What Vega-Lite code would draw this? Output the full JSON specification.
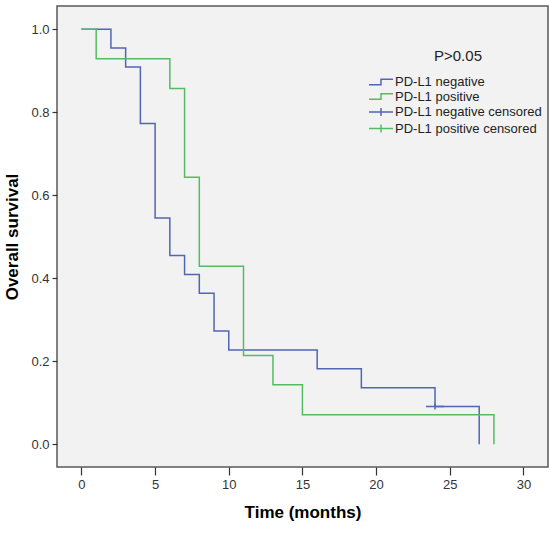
{
  "$schema": "https://vega.github.io/schema/vega-lite/v6.json",
  "autosize": {"type": "none"},
  "padding": {"left": 57, "top": 6, "right": 2, "bottom": 70},
  "width": 491,
  "height": 461,
  "background": "white",
  "config": {
    "view": {"fill": "#f2f2f2", "stroke": "#5a5a5a", "strokeWidth": 1.5},
    "font": "Liberation Sans"
  },
  "datasets": {
    "curves": [
      {"group": "PD-L1 negative", "time": 0, "surv": 1.0},
      {"group": "PD-L1 negative", "time": 2, "surv": 0.955},
      {"group": "PD-L1 negative", "time": 3, "surv": 0.909},
      {"group": "PD-L1 negative", "time": 4, "surv": 0.773},
      {"group": "PD-L1 negative", "time": 5, "surv": 0.545},
      {"group": "PD-L1 negative", "time": 6, "surv": 0.455},
      {"group": "PD-L1 negative", "time": 7, "surv": 0.409},
      {"group": "PD-L1 negative", "time": 8, "surv": 0.364},
      {"group": "PD-L1 negative", "time": 9, "surv": 0.273},
      {"group": "PD-L1 negative", "time": 10, "surv": 0.227},
      {"group": "PD-L1 negative", "time": 16, "surv": 0.182},
      {"group": "PD-L1 negative", "time": 19, "surv": 0.136},
      {"group": "PD-L1 negative", "time": 24, "surv": 0.091},
      {"group": "PD-L1 negative", "time": 27, "surv": 0.0},
      {"group": "PD-L1 positive", "time": 0, "surv": 1.0},
      {"group": "PD-L1 positive", "time": 1, "surv": 0.929},
      {"group": "PD-L1 positive", "time": 6, "surv": 0.857},
      {"group": "PD-L1 positive", "time": 7, "surv": 0.643},
      {"group": "PD-L1 positive", "time": 8, "surv": 0.429},
      {"group": "PD-L1 positive", "time": 11, "surv": 0.214},
      {"group": "PD-L1 positive", "time": 13, "surv": 0.143},
      {"group": "PD-L1 positive", "time": 15, "surv": 0.071},
      {"group": "PD-L1 positive", "time": 28, "surv": 0.0}
    ],
    "censored": [
      {"group": "PD-L1 negative censored", "time": 24, "surv": 0.091}
    ]
  },
  "layer": [
    {
      "data": {"name": "curves"},
      "mark": {"type": "line", "interpolate": "step-after", "strokeWidth": 1.5},
      "encoding": {
        "x": {
          "field": "time", "type": "quantitative",
          "scale": {"domain": [-1.66, 31.67], "nice": false, "zero": false},
          "axis": {
            "title": "Time (months)",
            "values": [0, 5, 10, 15, 20, 25, 30],
            "domain": false, "grid": false,
            "tickColor": "#333333", "tickSize": 8, "tickWidth": 1.2,
            "labelColor": "#333333", "labelFontSize": 13, "labelPadding": 3,
            "labelFont": "Liberation Sans",
            "titleFont": "Liberation Sans", "titleFontSize": 17, "titleFontWeight": "bold",
            "titleColor": "#000000", "titleX": 245.5, "titleY": 45,
            "titleBaseline": "middle", "titleAlign": "center"
          }
        },
        "y": {
          "field": "surv", "type": "quantitative",
          "scale": {"domain": [-0.055, 1.056], "nice": false, "zero": false},
          "axis": {
            "title": "Overall survival",
            "values": [0, 0.2, 0.4, 0.6, 0.8, 1.0],
            "format": ".1f",
            "domain": false, "grid": false,
            "tickColor": "#333333", "tickSize": 5, "tickWidth": 1.2,
            "labelColor": "#333333", "labelFontSize": 13, "labelPadding": 3,
            "labelFont": "Liberation Sans",
            "titleFont": "Liberation Sans", "titleFontSize": 17, "titleFontWeight": "bold",
            "titleColor": "#000000", "titleX": -45, "titleY": 230.5, "titleAngle": -90,
            "titleBaseline": "middle", "titleAlign": "center"
          }
        },
        "stroke": {
          "field": "group", "type": "nominal",
          "scale": {
            "domain": ["PD-L1 negative", "PD-L1 positive"],
            "range": ["#5166b3", "#55bb62"]
          },
          "legend": null
        }
      }
    },
    {
      "data": {"name": "censored"},
      "mark": {"type": "point", "filled": false, "opacity": 1, "strokeWidth": 1.5, "size": 81},
      "encoding": {
        "x": {"field": "time", "type": "quantitative"},
        "y": {"field": "surv", "type": "quantitative"},
        "color": {
          "field": "group", "type": "nominal",
          "scale": {
            "domain": ["PD-L1 negative", "PD-L1 positive", "PD-L1 negative censored", "PD-L1 positive censored"],
            "range": ["#5166b3", "#55bb62", "#5166b3", "#55bb62"]
          },
          "legend": {
            "title": "P>0.05",
            "orient": "none", "legendX": 317, "legendY": 43,
            "padding": 0,
            "titleFont": "Liberation Sans", "titleFontSize": 15, "titleFontWeight": "normal",
            "titleColor": "#222222", "titleAnchor": "middle", "titleAlign": "center", "titlePadding": 11,
            "labelFont": "Liberation Sans", "labelFontSize": 13, "labelColor": "#222222",
            "labelOffset": 7, "rowPadding": 0.5,
            "symbolSize": 144, "symbolStrokeWidth": 1.5, "symbolOpacity": 1,
            "symbolFillColor": "transparent"
          }
        },
        "shape": {
          "field": "group", "type": "nominal",
          "scale": {
            "domain": ["PD-L1 negative", "PD-L1 positive", "PD-L1 negative censored", "PD-L1 positive censored"],
            "range": ["M-2,0.47H0V-0.47H2", "M-2,0.47H0V-0.47H2", "M-2,0H2M0,-0.67V0.67", "M-2,0H2M0,-0.67V0.67"]
          },
          "legend": {
            "title": "P>0.05",
            "orient": "none", "legendX": 317, "legendY": 43,
            "padding": 0,
            "titleFont": "Liberation Sans", "titleFontSize": 15, "titleFontWeight": "normal",
            "titleColor": "#222222", "titleAnchor": "middle", "titleAlign": "center", "titlePadding": 11,
            "labelFont": "Liberation Sans", "labelFontSize": 13, "labelColor": "#222222",
            "labelOffset": 7, "rowPadding": 0.5,
            "symbolSize": 144, "symbolStrokeWidth": 1.5, "symbolOpacity": 1,
            "symbolFillColor": "transparent"
          }
        }
      }
    }
  ]
}
